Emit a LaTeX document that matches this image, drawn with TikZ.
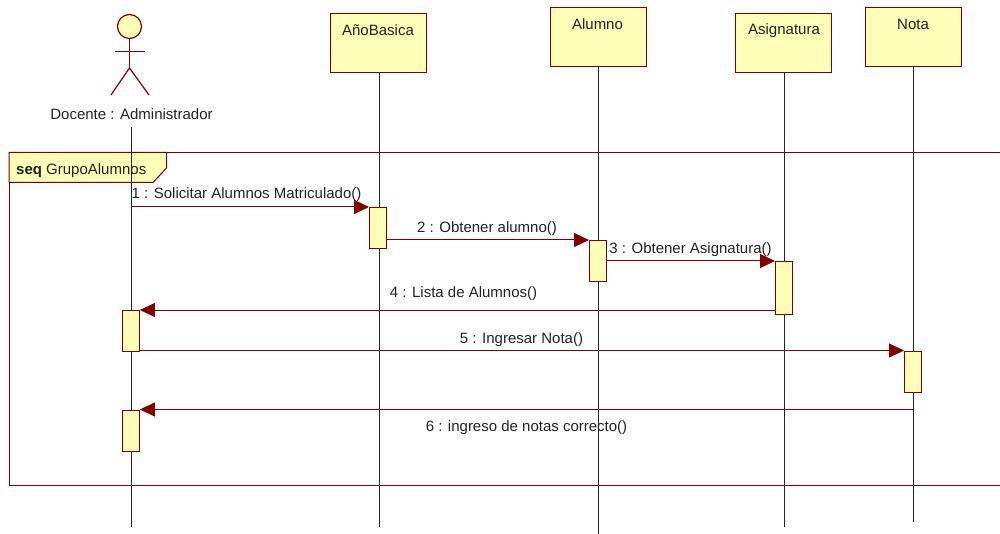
\documentclass[tikz,border=0pt]{standalone}
\usepackage{fontspec}
\setmainfont{Liberation Sans}
\usetikzlibrary{arrows.meta}
\definecolor{umlred}{HTML}{800000}
\definecolor{umlfill}{HTML}{FFFFB9}
\definecolor{umltext}{HTML}{222222}
\tikzset{
  x=1pt,y=-1pt,
  umlfont/.style={font=\fontsize{15}{16}\selectfont,text=umltext,inner sep=0pt},
  objbox/.style={draw=umlred,fill=umlfill,line width=1.4pt,minimum width=96pt,minimum height=59pt,inner sep=0pt,anchor=north west},
  actbox/.style={draw=umlred,fill=umlfill,line width=1.4pt,minimum width=16.5pt,minimum height=41pt,inner sep=0pt,anchor=north west},
  lifeline/.style={draw=black!85,line width=1pt},
  msg/.style={draw=umlred,line width=1pt,-{Triangle[length=15pt,width=14pt,fill=umlred]}},
  actorline/.style={draw=umlred,line width=1.2pt},
  lbl/.style={umlfont,anchor=center},
}
\begin{document}
\begin{tikzpicture}
\useasboundingbox (0,0) rectangle (1000,534);
% frame
\coordinate (fTL) at (9,152.5);
\coordinate (fBL) at (9,485.5);
\coordinate (fTR) at (1001,152.5);
\coordinate (fBR) at (1001,485.5);
\draw[umlred,line width=1pt] (fTR) -- (fTL) -- (fBL) -- (fBR);
\draw[umlred,fill=umlfill,line width=1pt] (9,152.5) -- (166.5,152.5) -- (166.5,168) -- (153,182.5) -- (9,182.5) -- cycle;
\node[lbl,anchor=west] (seqlabel) at (16,170.5) {\textbf{seq} GrupoAlumnos};
% objects
\node[objbox] (anio) at (330,13) {};
\node[objbox] (alumno) at (549.5,7) {};
\node[objbox] (asig) at (735,13) {};
\node[objbox] (nota) at (865,7) {};
\node[lbl] (anioT) at (378,30.5) {AñoBasica};
\node[lbl] (alumnoT) at (597.5,24.5) {Alumno};
\node[lbl] (asigT) at (784,30.5) {Asignatura};
\node[lbl] (notaT) at (913,24.5) {Nota};
% actor
\node[draw=umlred,fill=umlfill,line width=1.2pt,circle,minimum size=24pt,inner sep=0pt] (head) at (129.5,26.5) {};
\coordinate (hip) at (129.5,68);
\coordinate (armL) at (115,51.5);
\coordinate (armR) at (145,51.5);
\coordinate (legL) at (111,95);
\coordinate (legR) at (149,95);
\draw[actorline] (head.south) -- (hip);
\draw[actorline] (armL) -- (armR);
\draw[actorline] (legL) -- (hip) -- (legR);
\node[lbl] (actorT) at (131.5,114) {Docente : Administrador};
% lifelines
\coordinate (l1t) at (131.5,127);
\coordinate (l1b) at (131.5,527);
\coordinate (l2b) at (379,527);
\coordinate (l3b) at (598.5,534);
\coordinate (l4b) at (784.5,527);
\coordinate (l5b) at (913.5,522);
\draw[lifeline] (l1t) -- (l1b);
\draw[lifeline] (anio.south -| l2b) -- (l2b);
\draw[lifeline] (alumno.south -| l3b) -- (l3b);
\draw[lifeline] (asig.south -| l4b) -- (l4b);
\draw[lifeline] (nota.south -| l5b) -- (l5b);
% activations
\node[actbox] (a1) at (369,207) {};
\node[actbox] (a2) at (589,240) {};
\node[actbox,minimum height=53pt] (a3) at (775,261) {};
\node[actbox] (a4) at (122,310) {};
\node[actbox] (a5) at (904,350.5) {};
\node[actbox] (a6) at (122,409.5) {};
% messages
\draw[msg] (l1t |- a1.north west) -- (a1.north west);
\draw[msg] (a1.east |- a2.north west) -- (a2.north west);
\draw[msg] (a2.east |- a3.north west) -- (a3.north west);
\draw[msg] (a3.west |- a4.north east) -- (a4.north east);
\draw[msg] (a4.east |- a5.north west) -- (a5.north west);
\draw[msg] (l5b |- a6.north east) -- (a6.north east);
% message labels
\node[lbl] (m1) at (246.5,195) {1 : Solicitar Alumnos Matriculado()};
\node[lbl] (m2) at (487,229) {2 : Obtener alumno()};
\node[lbl] (m3) at (690.5,250) {3 : Obtener Asignatura()};
\node[lbl] (m4) at (463.5,294) {4 : Lista de Alumnos()};
\node[lbl] (m5) at (521.5,339.5) {5 : Ingresar Nota()};
\node[lbl] (m6) at (526.5,428) {6 : ingreso de notas correcto()};
\end{tikzpicture}
\end{document}
